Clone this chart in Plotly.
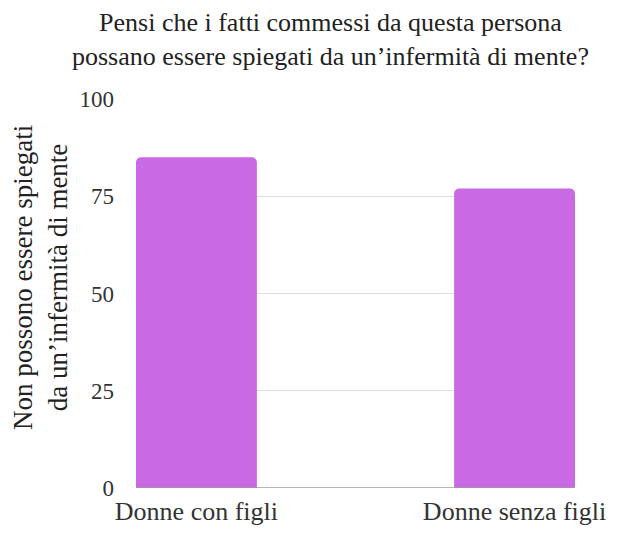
import plotly.graph_objects as go

categories = ["Donne con figli", "Donne senza figli"]
values = [85, 77]
y_ticks = [0, 25, 50, 75, 100]

W, H = 617, 538
L, R, T, B = 136, 34, 99, 42
PW, PH = W - L - R, H - T - B
SERIF = "Liberation Serif"

fig = go.Figure(
    go.Bar(
        x=categories,
        y=values,
        width=0.38,
        marker=dict(color="#C96AE4", line=dict(width=0)),
        hoverinfo="x+y",
    )
)

fig.update_layout(
    width=W,
    height=H,
    margin=dict(l=L, r=R, t=T, b=B, pad=0),
    paper_bgcolor="white",
    plot_bgcolor="white",
    showlegend=False,
    barcornerradius=5,
    xaxis=dict(
        type="category",
        range=[-0.19, 1.19],
        showgrid=False,
        showline=False,
        ticks="",
        ticklabelstandoff=5,
        tickfont=dict(family=SERIF, size=26, color="#333333"),
        zeroline=False,
    ),
    yaxis=dict(
        range=[0, 100],
        tickvals=y_ticks,
        showgrid=True,
        gridcolor="#dedede",
        gridwidth=1,
        zeroline=False,
        showline=False,
        ticks="",
        ticklabelstandoff=21,
        tickfont=dict(family=SERIF, size=23, color="#333333"),
    ),
    shapes=[
        dict(
            type="line",
            xref="paper",
            yref="y",
            x0=0,
            x1=1,
            y0=0,
            y1=0,
            line=dict(color="#9a9a9a", width=1.5),
        )
    ],
    annotations=[
        dict(
            text="Pensi che i fatti commessi da questa persona<br>possano essere spiegati da un’infermità di mente?",
            xref="paper",
            yref="paper",
            x=(334 - L) / PW,
            y=1 + (T - 4) / PH,
            xanchor="center",
            yanchor="top",
            showarrow=False,
            font=dict(family=SERIF, size=26, color="#222222"),
        ),
        dict(
            text="Non possono essere spiegati<br>da un’infermità di mente",
            xref="paper",
            yref="paper",
            x=(39 - L) / PW,
            y=(H - B - 281) / PH,
            xanchor="center",
            yanchor="middle",
            textangle=-90,
            showarrow=False,
            font=dict(family=SERIF, size=27, color="#222222"),
        ),
    ],
)

fig.write_html("out.html")
